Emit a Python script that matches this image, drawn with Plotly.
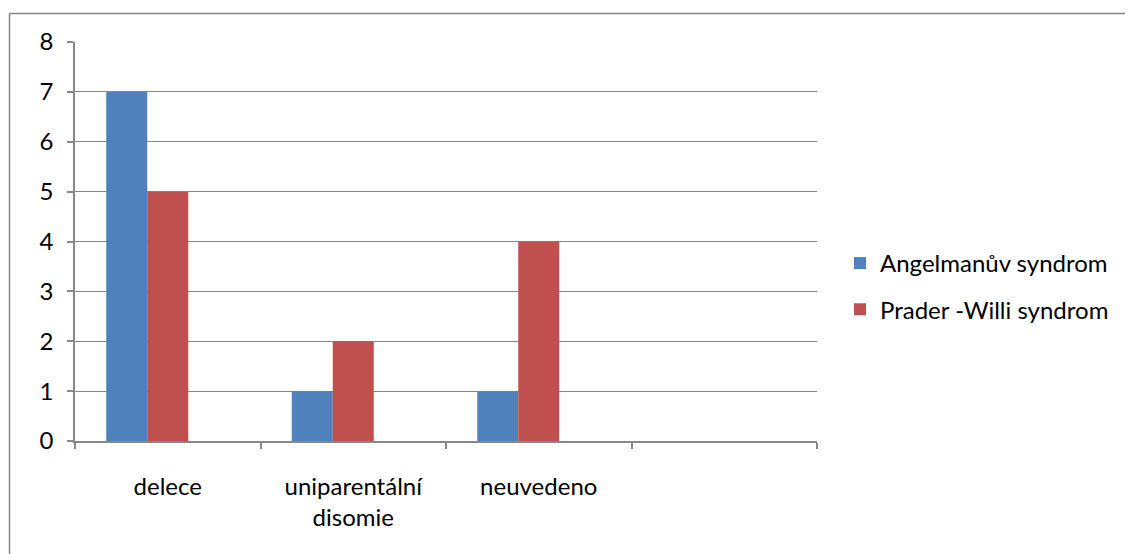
import plotly.graph_objects as go

categories = ["delece", "uniparentální<br>disomie", "neuvedeno", " "]
angelman = [7, 1, 1, None]
prader_willi = [5, 2, 4, None]
empty_series = [None, None, None, None]
series_names = ["Angelmanův syndrom", "Prader -Willi syndrom"]

# the page body has an 8px margin, so figure coordinates are shifted by 8px
OFF = 8
W, H = 1133 - OFF, 554 - OFF
L, R, T, B = 75 - OFF, 817 - OFF, 42 - OFF, 441 - OFF

fig = go.Figure()
fig.add_trace(go.Bar(x=categories, y=angelman, name=series_names[0],
                     marker=dict(color="#4F81BD", line=dict(width=0)), legendgroup="a"))
fig.add_trace(go.Bar(x=categories, y=prader_willi, name=series_names[1],
                     marker=dict(color="#C0504D", line=dict(width=0)), legendgroup="b"))
fig.add_trace(go.Bar(x=categories, y=empty_series, name="", showlegend=False,
                     marker=dict(color="#9BBB59"), hoverinfo="skip"))

font = dict(family="Lato, Carlito, Calibri, sans-serif", size=24, color="#000000")
grid = "#878787"

def px_x(p):
    return (p - OFF - L) / (R - L)

def px_y(p):
    return (B - (p - OFF)) / (B - T)

fig.update_layout(
    width=W, height=H,
    margin=dict(l=L, r=W - R, t=T, b=H - B, autoexpand=False),
    paper_bgcolor="white", plot_bgcolor="white",
    barmode="group", bargap=0.337, bargroupgap=0,
    font=font,
    showlegend=True,
    legend=dict(x=px_x(840), y=px_y(286.5), xanchor="left", yanchor="middle",
                font=font, tracegroupgap=12, bgcolor="rgba(0,0,0,0)"),
    xaxis=dict(type="category", categoryorder="array", categoryarray=categories,
               tickson="boundaries", ticks="outside", ticklen=6, tickwidth=1.5,
               tickcolor=grid, showline=True, linecolor=grid, linewidth=1.5,
               showgrid=False, ticklabelstandoff=23, tickfont=font),
    yaxis=dict(range=[0, 8], dtick=1, tick0=0, ticks="outside", ticklen=6,
               tickwidth=1.5, tickcolor=grid, showline=True, linecolor=grid,
               linewidth=1.5, showgrid=True, gridcolor=grid, gridwidth=1.2,
               zeroline=False, ticklabelstandoff=9, tickfont=font),
    shapes=[
        dict(type="line", xref="paper", yref="paper", x0=px_x(9.5), x1=px_x(1140),
             y0=px_y(13.5), y1=px_y(13.5), line=dict(color="#868686", width=1.5)),
        dict(type="line", xref="paper", yref="paper", x0=px_x(9.5), x1=px_x(9.5),
             y0=px_y(13.5), y1=px_y(560), line=dict(color="#868686", width=1.5)),
    ],
)

fig.write_html("out.html")
